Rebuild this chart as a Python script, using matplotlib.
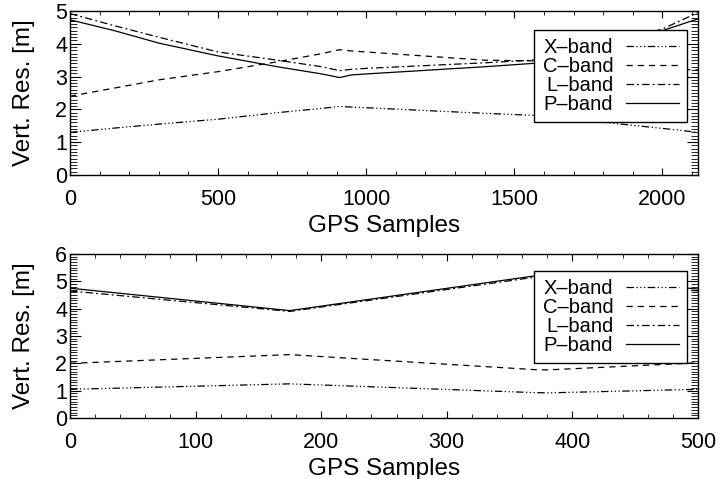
import matplotlib
matplotlib.use('Agg')
import matplotlib.pyplot as plt
from matplotlib.ticker import MultipleLocator

plt.rcParams['font.family'] = ['Liberation Sans', 'DejaVu Sans']

#上图：GPS 样本 0-2120
x_top = [0, 150, 300, 500, 700, 850, 910, 950, 1000, 1400, 1560, 1700, 2000, 2120]
p_top = [4.73, 4.4, 4.02, 3.63, 3.3, 3.08, 2.97, 3.05, 3.08, 3.3, 3.4, 3.55, 4.4, 4.76]
l_top = [4.92, 4.55, 4.2, 3.75, 3.5, 3.3, 3.18, 3.22, 3.25, 3.42, 3.5, 3.7, 4.45, 4.95]
c_top = [2.4, 2.65, 2.9, 3.15, 3.45, 3.7, 3.82, 3.78, 3.75, 3.5, 3.48, 3.4, 3.25, 3.2]
x_band_top = [1.3, 1.43, 1.55, 1.7, 1.9, 2.03, 2.09, 2.07, 2.05, 1.88, 1.82, 1.7, 1.42, 1.3]

#下图：GPS 样本 0-500
x_bot = [0, 175, 370, 380, 500]
p_bot = [4.75, 3.93, 5.2, 5.18, 4.72]
l_bot = [4.65, 3.9, 5.15, 5.13, 4.65]
c_bot = [2.0, 2.32, 1.77, 1.76, 2.02]
x_band_bot = [1.05, 1.25, 0.93, 0.92, 1.05]

labels = ['X\u2013band', 'C\u2013band', 'L\u2013band', 'P\u2013band']
styles = [(0, (6, 2, 1, 2, 1, 2, 1, 2)), (0, (5, 4)), (0, (6, 2.5, 1.5, 2.5)), '-']


def panel(ax, x, series, xmax, ymax, xmaj, xmin, anchor):
    for y, lab, ls in zip(series, labels, styles):
        ax.plot(x, y, color='black', lw=0.9, linestyle=ls, label=lab)
    ax.set_xlim(0, xmax)
    ax.set_ylim(0, ymax)
    ax.xaxis.set_major_locator(MultipleLocator(xmaj))
    ax.xaxis.set_minor_locator(MultipleLocator(xmin))
    ax.yaxis.set_major_locator(MultipleLocator(1))
    ax.yaxis.set_minor_locator(MultipleLocator(0.1))
    ax.tick_params(which='both', direction='in', top=True, right=True, labelsize=15.5)
    ax.tick_params(axis='x', which='major', length=5, pad=10)
    ax.tick_params(axis='x', which='minor', length=3)
    ax.tick_params(axis='y', which='major', length=8, pad=2)
    ax.tick_params(axis='y', which='minor', length=5, width=0.6)
    ax.set_xlabel('GPS Samples', fontsize=17.5, labelpad=4)
    ax.set_ylabel('Vert. Res. [m]', fontsize=17.5)
    ax.yaxis.set_label_coords(-0.056, 0.5)
    for s in ax.spines.values():
        s.set_linewidth(1.0)
    leg = ax.legend(loc='upper right', bbox_to_anchor=anchor, markerfirst=False,
                    fontsize=14.5, handlelength=2.6, labelspacing=0.0,
                    handletextpad=0.65, borderpad=0.4, borderaxespad=0,
                    fancybox=False, framealpha=1, edgecolor='black')
    leg.get_frame().set_linewidth(1.0)


fig = plt.figure(figsize=(7.2, 4.79), dpi=100)
ax1 = fig.add_axes([0.0972, 0.6347, 0.8722, 0.3424])
ax2 = fig.add_axes([0.0972, 0.1273, 0.8722, 0.3424])

panel(ax1, x_top, [x_band_top, c_top, l_top, p_top], 2120, 5, 500, 100, (0.982, 0.884))
panel(ax2, x_bot, [x_band_bot, c_bot, l_bot, p_bot], 500, 6, 100, 20, (0.982, 0.896))

fig.savefig('out.png', dpi=100)
